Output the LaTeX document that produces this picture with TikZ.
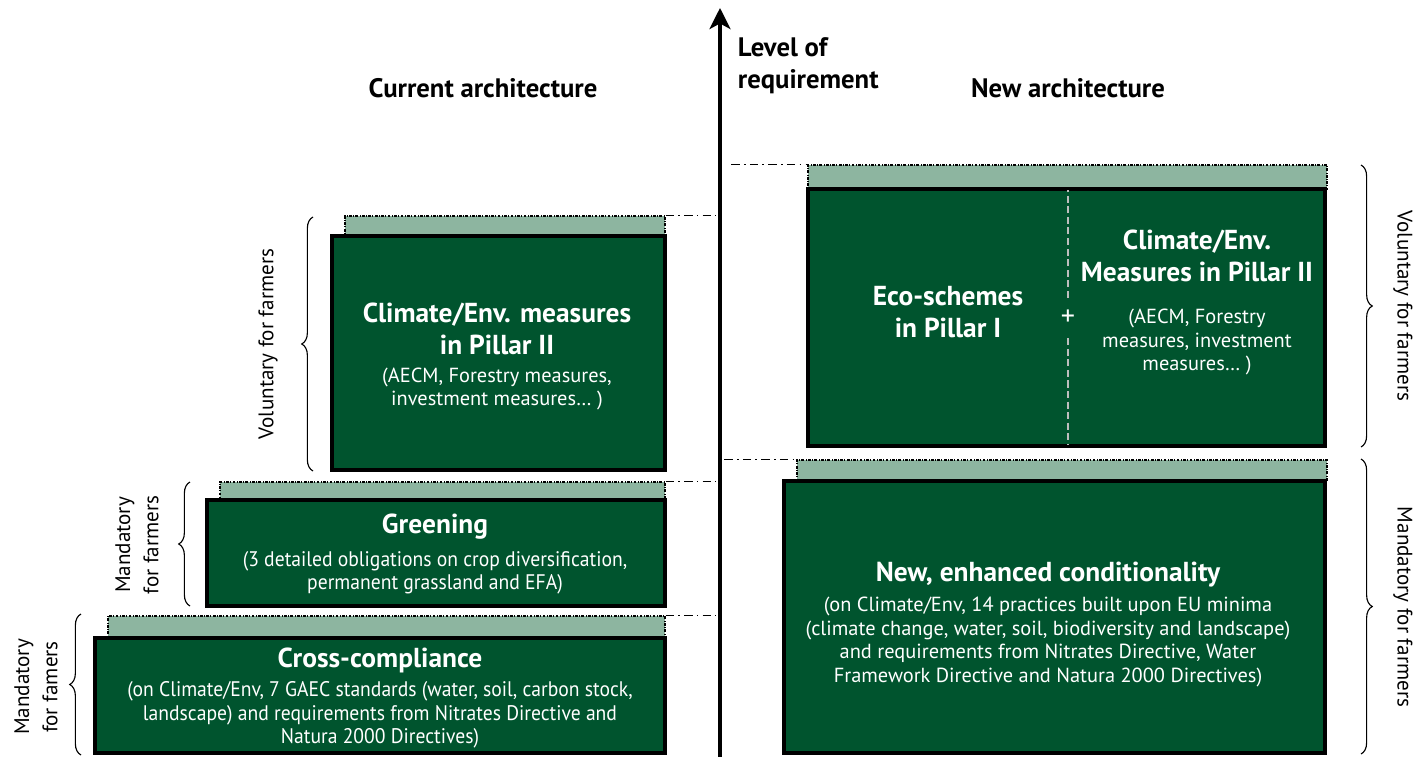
\documentclass[tikz,border=0pt]{standalone}
\usepackage{fontspec}
\setmainfont{PT Sans}
\newfontfamily\condfont[FakeStretch=0.93]{PT Sans}
\usetikzlibrary{arrows.meta,decorations.pathreplacing,fit}
\definecolor{boxgreen}{RGB}{0,84,46}
\definecolor{stripgreen}{RGB}{141,181,160}
\definecolor{divgray}{RGB}{190,190,190}

\begin{document}
\begin{tikzpicture}[x=0.025cm, y=-0.025cm,
  box/.style={draw=black, line width=3.2pt, fill=boxgreen, inner sep=0pt},
  strip/.style={draw=black, line width=0.8pt, dash pattern=on 2pt off 1pt on 0.6pt off 1pt, fill=stripgreen, inner sep=0pt},
  head/.style={font=\bfseries\fontsize{19}{23}\selectfont, align=center},
  big/.style={text=white, font=\bfseries\fontsize{19.5}{22.8}\selectfont, align=center},
  small/.style={text=white, font=\fontsize{14.5}{17}\selectfont, align=center},
  smallc/.style={text=white, font=\condfont\fontsize{15}{16.6}\selectfont, align=center},
  side/.style={font=\fontsize{15}{20}\selectfont, align=center},
  brc/.style={decorate, decoration={brace, amplitude=8pt}, line width=0.8pt},
  level/.style={line width=1pt, dash pattern=on 6pt off 3pt on 1.2pt off 3pt},
  divider/.style={divgray, line width=1pt, dash pattern=on 5pt off 2.5pt}]
  \useasboundingbox (0,0) rectangle (1416,757);

  % axis
  \coordinate (axbot) at (720,757);
  \coordinate (axtop) at (720,8);
  \draw[line width=2.4pt, -{Stealth[length=15pt, width=15pt, inset=4pt]}] (axbot) -- (axtop);
  \node[head, anchor=west, align=left] (lvl) at (733,66) {Level of\\requirement};
  \node[head] (curr) at (483,88) {Current architecture};
  \node[head] (newarch) at (1068,88) {New architecture};

  % current architecture
  \node[strip, fit={(345,216) (665,236)}] (pil2s) {};
  \node[box, fit={(332,236) (665,470)}] (pil2) {};
  \node[big] (pil2t) at (497,329) {Climate/Env. measures\\in Pillar II};
  \node[small] (pil2d) at (497,389) {(AECM, Forestry measures,\\investment measures… )};

  \node[strip, fit={(220,482) (665,500)}] (greens) {};
  \node[box, fit={(207,500) (665,606)}] (green) {};
  \node[big] (greent) at (435,527) {Greening};
  \node[smallc] (greend) at (435,573) {(3 detailed obligations on crop diversification,\\permanent grassland and EFA)};

  \node[strip, fit={(108,616) (665,638)}] (crosss) {};
  \node[box, fit={(95,638) (665,753)}] (cross) {};
  \node[big] (crosst) at (380,660) {Cross-compliance};
  \node[smallc] (crossd) at (380,715) {(on Climate/Env, 7 GAEC standards (water, soil, carbon stock,\\landscape) and requirements from Nitrates Directive and\\Natura 2000 Directives)};

  % new architecture
  \node[strip, fit={(808,165) (1327,189)}] (ecos) {};
  \node[box, fit={(808,189) (1325,446)}] (eco) {};
  \node[big] (ecot) at (948,312) {Eco-schemes\\in Pillar I};
  \node[big] (clim2t) at (1197,256) {Climate/Env.\\Measures in Pillar II};
  \node[small] (clim2d) at (1197,342) {(AECM, Forestry\\measures, investment\\measures… )};
  \node[text=white, font=\fontsize{20}{20}\selectfont, minimum height=1cm, inner sep=0pt] (plus) at (1068,318) {+};
  \draw[divider, shorten >=2.5pt] (plus.north) -- (plus |- eco.north);
  \draw[divider, shorten >=2.5pt] (plus.south) -- (plus |- eco.south);

  \node[strip, fit={(797,460) (1327,481)}] (conds) {};
  \node[box, fit={(784,481) (1325,753)}] (cond) {};
  \node[big] (condt) at (1048,575) {New, enhanced conditionality};
  \node[small] (condd) at (1048,642) {(on Climate/Env, 14 practices built upon EU minima\\(climate change, water, soil, biodiversity and landscape)\\and requirements from Nitrates Directive, Water\\Framework Directive and Natura 2000 Directives)};

  % levels
  \draw[level, shorten >=3pt] (pil2s.north east) -- (pil2s.north east -| axbot);
  \draw[level, shorten >=3pt] (greens.north east) -- (greens.north east -| axbot);
  \draw[level, shorten >=3pt] (crosss.north east) -- (crosss.north east -| axbot);
  \draw[level, shorten <=8pt] (ecos.north west -| axbot) -- (ecos.north west);
  \draw[level, shorten <=3pt] (conds.north west -| axbot) -- (conds.north west);

  % braces
  \draw[brc] (313,471) -- (313,217);
  \node[side, rotate=90] (volL) at (268,344) {Voluntary for farmers};
  \draw[brc] (190,606) -- (190,482);
  \node[side, rotate=90] (mandG) at (137,545) {Mandatory\\for farmers};
  \draw[brc] (81,755) -- (81,614);
  \node[side, rotate=90] (mandC) at (36,687) {Mandatory\\for famers};
  \draw[brc] (1361,165) -- (1361,447);
  \node[side, rotate=-90] (volR) at (1403,306) {Voluntary for farmers};
  \draw[brc] (1361,459) -- (1361,754);
  \node[side, rotate=-90] (mandR) at (1403,607) {Mandatory for farmers};
\end{tikzpicture}
\end{document}
